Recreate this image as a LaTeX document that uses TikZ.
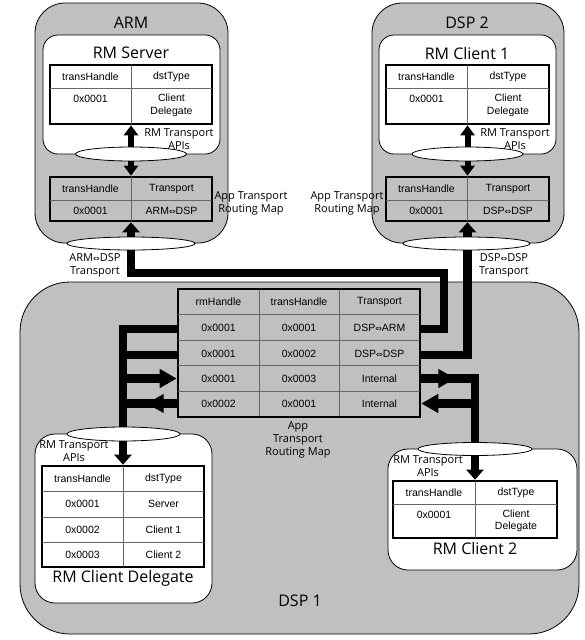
\documentclass[tikz,border=0pt]{standalone}
\usepackage{fontspec}
\setmainfont{Liberation Sans}
\newfontfamily\notefont{Open Sans}
\newfontfamily\arrowfont{DejaVu Sans}
\usetikzlibrary{arrows.meta,positioning,calc,shapes}
\definecolor{boxgray}{RGB}{192,192,192}
\newcommand{\bothways}{{\arrowfont\fontsize{8}{10}\selectfont ⇔}}
\tikzset{%
  cpu box/.style={%
    draw, fill=boxgray, line width=0.8pt, rounded corners=30pt, inner sep=0pt
  }
}
\tikzset{%
  rm box/.style={%
    draw, fill=white, line width=0.8pt, rounded corners=20pt, inner sep=0pt
  }
}
\tikzset{%
  map frame/.style={%
    draw, line width=2.6pt, inner sep=0pt
  },
  grid line/.style={%
    draw=black!60, line width=0.9pt, shorten >=1.3pt, shorten <=1.3pt
  },
  cell/.style={%
    font=\fontsize{10.5}{12.5}\selectfont, align=center, inner sep=0pt
  },
  title/.style={%
    font=\notefont\fontsize{16}{18}\selectfont, inner sep=0pt
  },
  note/.style={%
    font=\notefont\fontsize{11}{13}\selectfont, align=center, inner sep=0pt
  },
  port/.style={%
    ellipse, draw, fill=white, line width=0.8pt, inner sep=0pt
  },
  transport/.style={%
    line width=8.5pt
  },
  api/.style={%
    line width=6pt
  },
  tip/.style={%
    -{Triangle[length=10pt,width=17pt]}
  },
  big tip/.style={%
    -{Triangle[length=17pt,width=18pt]}
  },
  small tip/.style={%
    -{Triangle[length=10pt,width=14pt]}
  }
}

\begin{document}
\begin{tikzpicture}[x=1pt,y=-1pt]
  \useasboundingbox (0,0) rectangle (584,640);
  % processors
  \node [cpu box, rounded corners=50pt, minimum width=559pt, minimum height=352pt] (dsp1) at (299.5,458) {};
  \node [cpu box, minimum width=193pt, minimum height=240pt] (arm) at (131.5,123) {};
  \node [cpu box, minimum width=192pt, minimum height=240pt] (dsp2) at (468,123) {};
  \node [title] (armname) at (131,23) {ARM};
  \node [title] (dsp2name) at (467,23) {DSP 2};
  \node [title] (dsp1name) at (300,601) {DSP 1};

  % RM instances
  \node [rm box, rounded corners=15pt, minimum width=177pt, minimum height=119pt] (server) at (131.5,94.5) {};
  \node [rm box, rounded corners=15pt, minimum width=177pt, minimum height=119pt] (client1) at (467.5,94.5) {};
  \node [rm box, minimum width=177pt, minimum height=169pt] (delegate) at (123.5,518.5) {};
  \node [rm box, minimum width=189pt, minimum height=121pt] (client2) at (482.5,509.5) {};
  \node [title] (servername) at (131,53) {RM Server};
  \node [title] (client1name) at (467,53) {RM Client 1};
  \node [title] (delegatename) at (123,578) {RM Client Delegate};
  \node [title] (client2name) at (475,548) {RM Client 2};

  % RM Server tables
  \node [map frame, fill=white, minimum width=162pt, minimum height=59pt] (srvtab) at (131,94.5) {};
  \draw [grid line] (srvtab.north) -- (srvtab.south);
  \draw [grid line] (srvtab.west |- 0,88) -- (srvtab.east |- 0,88);
  \node [cell] (srvh1) at (90.5,76.5) {transHandle};
  \node [cell] (srvh2) at (171.5,76.5) {dstType};
  \node [cell] (srvc1) at (90.5,99) {0x0001};
  \node [cell] (srvc2) at (171.5,105.5) {Client\\Delegate};
  \node [map frame, fill=boxgray, minimum width=162pt, minimum height=44pt] (srvmap) at (131,199) {};
  \draw [grid line] (srvmap.north) -- (srvmap.south);
  \draw [grid line] (srvmap.west |- 0,200) -- (srvmap.east |- 0,200);
  \node [cell] (srvm1) at (90.5,188.5) {transHandle};
  \node [cell] (srvm2) at (171.5,188.5) {Transport};
  \node [cell] (srvm3) at (90.5,210.5) {0x0001};
  \node [cell] (srvm4) at (171.5,210.5) {ARM\bothways DSP};

  % RM Client 1 tables
  \node [map frame, fill=white, minimum width=163pt, minimum height=59pt] (c1tab) at (467.5,94.5) {};
  \draw [grid line] (c1tab.north) -- (c1tab.south);
  \draw [grid line] (c1tab.west |- 0,88) -- (c1tab.east |- 0,88);
  \node [cell] (c1h1) at (426.5,76.5) {transHandle};
  \node [cell] (c1h2) at (508,76.5) {dstType};
  \node [cell] (c1c1) at (426.5,99) {0x0001};
  \node [cell] (c1c2) at (508,105.5) {Client\\Delegate};
  \node [map frame, fill=boxgray, minimum width=163pt, minimum height=44pt] (c1map) at (467.5,199) {};
  \draw [grid line] (c1map.north) -- (c1map.south);
  \draw [grid line] (c1map.west |- 0,200) -- (c1map.east |- 0,200);
  \node [cell] (c1m1) at (426.5,188.5) {transHandle};
  \node [cell] (c1m2) at (508,188.5) {Transport};
  \node [cell] (c1m3) at (426.5,210.5) {0x0001};
  \node [cell] (c1m4) at (508,210.5) {DSP\bothways DSP};

  % RM Client Delegate table
  \node [map frame, fill=white, minimum width=162pt, minimum height=101pt] (cdtab) at (123,516.5) {};
  \draw [grid line] (cdtab.north) -- (cdtab.south);
  \foreach \y in {491,517,542}
    \draw [grid line] (cdtab.west |- 0,\y) -- (cdtab.east |- 0,\y);
  \foreach \y/\a/\b [count=\i] in {478.5/transHandle/dstType, 504/0x0001/Server, 529.5/0x0002/Client 1, 554.5/0x0003/Client 2}{
    \node [cell] (cda\i) at (82.5,\y) {\a};
    \node [cell] (cdb\i) at (163.5,\y) {\b};
  }

  % RM Client 2 table
  \node [map frame, fill=white, minimum width=164pt, minimum height=57pt] (c2tab) at (475,509.5) {};
  \draw [grid line] (c2tab.north) -- (c2tab.south);
  \draw [grid line] (c2tab.west |- 0,504) -- (c2tab.east |- 0,504);
  \node [cell] (c2h1) at (434,492.5) {transHandle};
  \node [cell] (c2h2) at (516,492.5) {dstType};
  \node [cell] (c2c1) at (434,515) {0x0001};
  \node [cell] (c2c2) at (516,521) {Client\\Delegate};

  % DSP 1 routing map
  \node [map frame, fill=boxgray, minimum width=242pt, minimum height=128pt] (map) at (299,353) {};
  \draw [grid line] (259,289) -- (259,417);
  \draw [grid line] (339,289) -- (339,417);
  \foreach \y in {314.6,340.2,365.8,391.4}
    \draw [grid line] (map.west |- 0,\y) -- (map.east |- 0,\y);
  \foreach \y/\a/\b/\c [count=\i] in {302/rmHandle/transHandle/Transport,
      328/0x0001/0x0001/DSP\bothways ARM, 353.5/0x0001/0x0002/DSP\bothways DSP,
      378.6/0x0001/0x0003/Internal, 404.2/0x0002/0x0001/Internal}{
    \node [cell] (rm\i) at (218.5,\y) {\a};
    \node [cell] (th\i) at (299,\y) {\b};
    \node [cell] (tp\i) at (379.5,\y) {\c};
  }
  \coordinate (row1) at (299,329);
  \coordinate (row2) at (299,355);
  \coordinate (row3) at (299,378.5);
  \coordinate (row4) at (299,403.5);
  \coordinate (armbend) at (444,273);

  % transports
  \draw [transport, tip] (map.east |- row1) -| (armbend) -| (srvmap.south);
  \draw [transport, tip] (map.east |- row2) -| (c1map.south);
  \draw [api, small tip] (131,154) -- (srvtab.south);
  \draw [api, small tip] (131,154) -- (srvmap.north);
  \draw [api, small tip] (467.5,154) -- (c1tab.south);
  \draw [api, small tip] (467.5,154) -- (c1map.north);

  % internal routes
  \draw [transport, tip] (map.west |- row1) -| (cdtab.north);
  \draw [transport] (map.west |- row2) -- (cdtab.north |- row2);
  \draw [transport, big tip] (cdtab.north |- row3) -- (map.west |- row3);
  \draw [transport] (map.west |- row4) -- (cdtab.north |- row4);
  \draw [transport, big tip] (map.west |- row4) -- ++(-30,0);
  \draw [transport, tip] (map.east |- row3) -| (c2tab.north);
  \draw [transport, big tip] (map.east |- row3) -- ++(34,0);
  \draw [transport, big tip] (c2tab.north |- row4) -- (map.east |- row4);

  % interfaces
  \node [port, minimum width=111pt, minimum height=14pt] (srvport) at (131,154) {};
  \node [port, minimum width=128pt, minimum height=13pt] (armlink) at (131,243.5) {};
  \node [port, minimum width=111pt, minimum height=14pt] (c1port) at (467.5,154) {};
  \node [port, minimum width=127pt, minimum height=13pt] (dsp2link) at (466.5,243.5) {};
  \node [port, minimum width=113pt, minimum height=14pt] (cdport) at (123.5,434) {};
  \node [port, minimum width=114pt, minimum height=13pt] (c2port) at (475,449) {};

  % labels
  \node [note] (srvapi) at (179,139) {RM Transport\\APIs};
  \node [note] (c1api) at (515,139) {RM Transport\\APIs};
  \node [note] (cdapi) at (74,451) {RM Transport\\APIs};
  \node [note] (c2api) at (428,466) {RM Transport\\APIs};
  \node [note] (srvroute) at (251,203) {App Transport\\Routing Map};
  \node [note] (c1route) at (347,203) {App Transport\\Routing Map};
  \node [note] (maproute) at (298,440) {App\\Transport\\Routing Map};
  \node [note] (armlinkname) at (95,265) {ARM\bothways DSP\\Transport};
  \node [note] (dsp2linkname) at (504,265) {DSP\bothways DSP\\Transport};
\end{tikzpicture}
\end{document}
